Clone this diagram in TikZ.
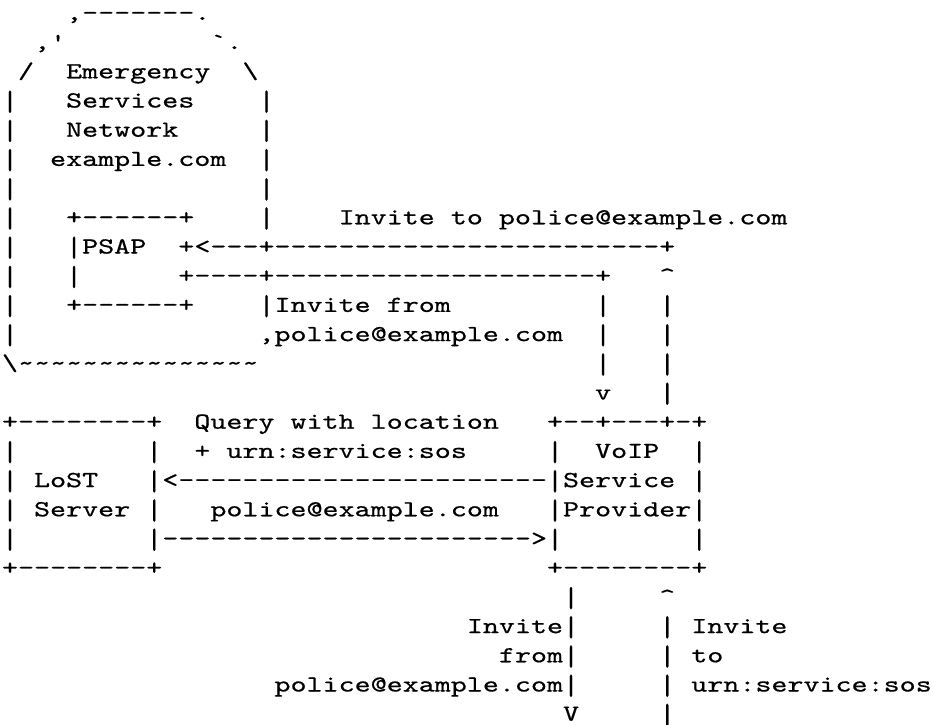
\documentclass[tikz,border=0pt]{standalone}
\usepackage{graphicx}
\font\asciifont="[lmmono10-regular]:embolden=0.6;extend=1.3275" at 23pt
\ExplSyntaxOn
\dim_new:N \l_asc_cw_dim
\dim_set:Nn \l_asc_cw_dim {16.03pt}
\NewDocumentCommand \AsciiRow { m }
  {
    \str_map_inline:nn {#1}
      {
        \str_case:nnF {##1}
          {
            {*} { \hbox_to_wd:nn {\l_asc_cw_dim} { \hss } }
            {|} { \hbox_to_wd:nn {\l_asc_cw_dim}
                  { \hss \raisebox{-3pt}{\scalebox{1}[1.25]{##1}} \hss } }
          }
          { \hbox_to_wd:nn {\l_asc_cw_dim} { \hss ##1 \hss } }
      }
  }
\ExplSyntaxOff
\tikzset{
  asciirow/.style={inner sep=0pt, outer sep=0pt, anchor=base west,
    font=\asciifont, text=black}
}
\begin{document}
\begin{tikzpicture}[x=1pt,y=-1pt]
\fill[white] (0,0) rectangle (933,724);
\path[use as bounding box] (0,0) rectangle (933,724);
\node[asciirow] (r1)  at (2,19.9)  {\AsciiRow{****,-------.}};
\node[asciirow] (r2)  at (2,49.1)  {\AsciiRow{**,'*********`.}};
\node[asciirow] (r3)  at (2,78.3)  {\AsciiRow{*/**Emergency**\*}};
\node[asciirow] (r4)  at (2,107.5) {\AsciiRow{|***Services****|}};
\node[asciirow] (r5)  at (2,136.7) {\AsciiRow{|***Network*****|}};
\node[asciirow] (r6)  at (2,165.9) {\AsciiRow{|**example.com**|}};
\node[asciirow] (r7)  at (2,195.1) {\AsciiRow{|***************|}};
\node[asciirow] (r8)  at (2,224.3) {\AsciiRow{|***+------+****|****Invite*to*police@example.com}};
\node[asciirow] (r9)  at (2,253.5) {\AsciiRow{|***|PSAP**+<---+------------------------+}};
\node[asciirow] (r10) at (2,282.7) {\AsciiRow{|***|******+----+--------------------+***^}};
\node[asciirow] (r11) at (2,311.9) {\AsciiRow{|***+------+****|Invite*from*********|***|}};
\node[asciirow] (r12) at (2,341.1) {\AsciiRow{|***************,police@example.com**|***|}};
\node[asciirow] (r13) at (2,370.3) {\AsciiRow{\~~~~~~~~~~~~~~~*********************|***|}};
\node[asciirow] (r14) at (2,399.5) {\AsciiRow{*************************************v***|}};
\node[asciirow] (r15) at (2,428.7) {\AsciiRow{+--------+**Query*with*location***+--+---+-+}};
\node[asciirow] (r16) at (2,457.9) {\AsciiRow{|********|**+*urn:service:sos*****|**VoIP**|}};
\node[asciirow] (r17) at (2,487.1) {\AsciiRow{|*LoST***|<-----------------------|Service*|}};
\node[asciirow] (r18) at (2,516.3) {\AsciiRow{|*Server*|***police@example.com***|Provider|}};
\node[asciirow] (r19) at (2,545.5) {\AsciiRow{|********|----------------------->|********|}};
\node[asciirow] (r20) at (2,574.7) {\AsciiRow{+--------+************************+--------+}};
\node[asciirow] (r21) at (2,603.9) {\AsciiRow{***********************************|*****^}};
\node[asciirow] (r22) at (2,633.1) {\AsciiRow{*****************************Invite|*****|*Invite}};
\node[asciirow] (r23) at (2,662.3) {\AsciiRow{*******************************from|*****|*to}};
\node[asciirow] (r24) at (2,691.5) {\AsciiRow{*****************police@example.com|*****|*urn:service:sos}};
\node[asciirow] (r25) at (2,720.7) {\AsciiRow{***********************************V*****|}};
\end{tikzpicture}
\end{document}
